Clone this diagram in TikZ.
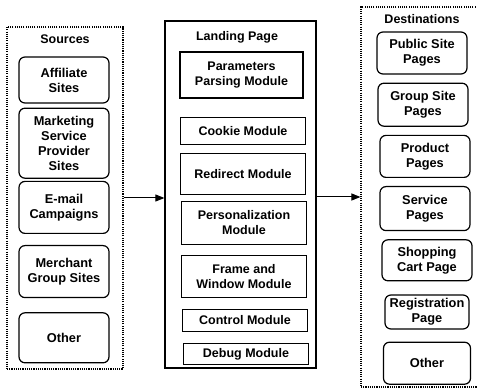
\documentclass[tikz,border=0pt]{standalone}
\usepackage{fontspec}
\setmainfont{Liberation Sans}
\usetikzlibrary{positioning, arrows.meta}

\tikzset{
    grp/.style={draw, line width=1.1pt, dash pattern=on 1.1pt off 1.1pt, inner sep=0pt},
    lpbox/.style={draw, line width=1.2pt, inner sep=0pt},
    title/.style={font=\bfseries\fontsize{12.5}{15}\selectfont},
    srcbox/.style={draw, line width=1.2pt, rounded corners=6pt, align=center,
        minimum width=90pt, inner sep=1pt, font=\bfseries\fontsize{12.8}{15}\selectfont},
    modbox/.style={draw, line width=1.1pt, align=center,
        minimum width=125pt, inner sep=1pt, font=\bfseries\fontsize{12.5}{15}\selectfont},
    dstbox/.style={srcbox},
    flow/.style={-{Triangle[length=9pt, width=7pt]}, line width=1pt}
}

\begin{document}
\begin{tikzpicture}[x=1pt, y=-1pt]
        \useasboundingbox (0,0) rectangle (477,390);

        % groups
        \node[grp, minimum width=116pt, minimum height=342pt] (src) at (65,198) {};
        \node[lpbox, minimum width=151pt, minimum height=347pt] (lp) at (240.5,194.5) {};
        \node[grp, minimum width=150pt, minimum height=380pt] (dst) at (436,197) {};

        % sources
        \node[title] (srct) at (65,39) {Sources};
        \node[srcbox, minimum height=46pt] (aff) at (64,80) {Affiliate\\Sites};
        \node[srcbox, minimum height=70pt, below=4pt of aff] (msp) {Marketing\\Service\\Provider\\Sites};
        \node[srcbox, minimum height=52pt, below=2pt of msp] (email) {E-mail\\Campaigns};
        \node[srcbox, minimum height=52pt, below=11pt of email] (merch) {Merchant\\Group Sites};
        \node[srcbox, minimum height=50pt, below=14pt of merch] (srcoth) {Other};

        % landing page
        \node[title] (lpt) at (237,37) {Landing Page};
        \node[modbox, minimum width=123pt, minimum height=46pt] (param) at (241.5,75) {Parameters\\Parsing Module};
        \node[modbox, minimum height=27pt, below=18pt of param, xshift=1.5pt] (cookie) {Cookie Module};
        \node[modbox, minimum height=41pt, below=8pt of cookie] (redir) {Redirect Module};
        \node[modbox, minimum height=43pt, below=6pt of redir, xshift=1pt] (pers) {Personalization\\Module};
        \node[modbox, minimum height=42pt, below=10pt of pers] (frame) {Frame and\\Window Module};
        \node[modbox, minimum height=22pt, below=11pt of frame, xshift=1pt] (ctrl) {Control Module};
        \node[modbox, minimum height=21pt, below=11pt of ctrl, xshift=1pt] (debug) {Debug Module};

        % destinations
        \node[title] (dstt) at (422,19) {Destinations};
        \node[dstbox, minimum height=42pt] (pub) at (422,53) {Public Site\\Pages};
        \node[dstbox, minimum height=43pt, below=8pt of pub, xshift=1pt] (grpsite) {Group Site\\Pages};
        \node[dstbox, minimum height=42pt, below=8pt of grpsite, xshift=2pt] (prod) {Product\\Pages};
        \node[dstbox, minimum height=44pt, below=8pt of prod] (serv) {Service\\Pages};
        \node[dstbox, minimum height=41pt, below=8pt of serv, xshift=2pt] (cart) {Shopping\\Cart Page};
        \node[dstbox, minimum width=84pt, minimum height=34pt, below=13pt of cart] (reg) {Registration\\Page};
        \node[dstbox, minimum width=87pt, minimum height=42pt, below=12pt of reg] (dstoth) {Other};

        \draw[flow] (src.east) -- (src.east -| lp.west);
        \draw[flow] (lp.east |- dst.west) -- (dst.west);
    \end{tikzpicture}
\end{document}
